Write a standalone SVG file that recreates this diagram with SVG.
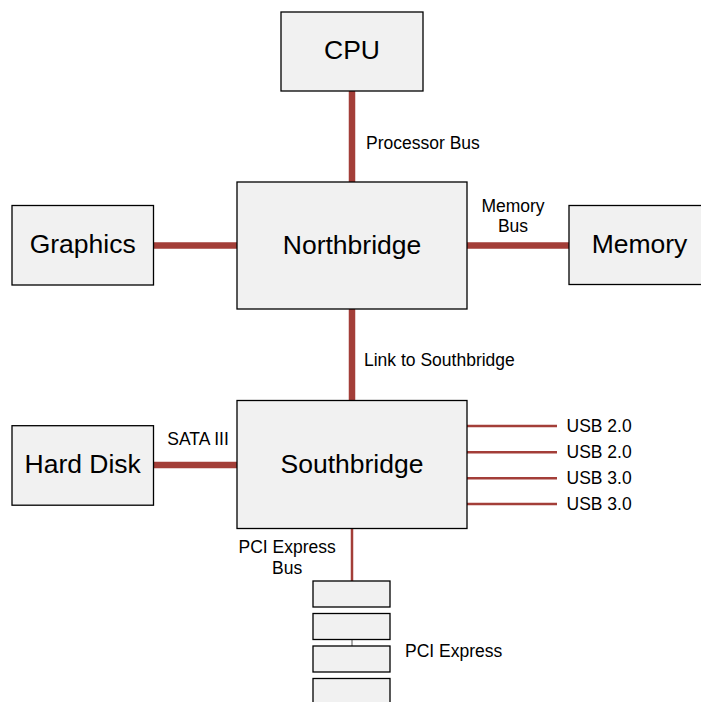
<svg xmlns="http://www.w3.org/2000/svg" width="701" height="702" viewBox="0 0 701 702">
<style>
.box{fill:#f1f1f1;stroke:#000;stroke-width:1.3}
.big{font-family:"Liberation Sans",Arial,sans-serif;font-size:26.5px;fill:#000}
.sm{font-family:"Liberation Sans",Arial,sans-serif;font-size:17.5px;fill:#000}
.bus{stroke:#a33e38;stroke-width:6.5;stroke-linecap:round;fill:none}
.thin{stroke:#a33e38;stroke-width:2.5;fill:none}
</style>
<rect width="701" height="702" fill="#fff"/>
<g id="connectors">
<line class="bus" x1="352" y1="92" x2="352" y2="182"/>
<line class="bus" x1="154" y1="245.5" x2="237" y2="245.5"/>
<line class="bus" x1="467" y1="245.5" x2="570" y2="245.5"/>
<line class="bus" x1="352" y1="310" x2="352" y2="400"/>
<line class="bus" x1="154" y1="465" x2="237" y2="465"/>
<line class="thin" x1="467" y1="426" x2="557" y2="426"/>
<line class="thin" x1="467" y1="452.3" x2="557" y2="452.3"/>
<line class="thin" x1="467" y1="478.3" x2="557" y2="478.3"/>
<line class="thin" x1="467" y1="504" x2="557" y2="504"/>
<line class="thin" x1="352" y1="529" x2="352" y2="581"/>
<line x1="352" y1="639" x2="352" y2="646" stroke="#555" stroke-width="1"/>
</g>
<g id="cpu"><rect class="box" x="281" y="12" width="142" height="79"/><text class="big" x="352" y="58.5" text-anchor="middle">CPU</text></g>
<g id="northbridge"><rect class="box" x="237" y="182" width="230" height="127"/><text class="big" x="352" y="253.5" text-anchor="middle">Northbridge</text></g>
<g id="graphics"><rect class="box" x="12" y="205.5" width="141.5" height="79.5"/><text class="big" x="82.7" y="253" text-anchor="middle">Graphics</text></g>
<g id="memory"><rect class="box" x="569" y="205.5" width="141.5" height="79"/><text class="big" x="639.5" y="253" text-anchor="middle">Memory</text></g>
<g id="southbridge"><rect class="box" x="237" y="400.5" width="230" height="128"/><text class="big" x="352" y="473.3" text-anchor="middle">Southbridge</text></g>
<g id="harddisk"><rect class="box" x="12" y="425.7" width="141.5" height="79.5"/><text class="big" x="82.7" y="472.8" text-anchor="middle">Hard Disk</text></g>
<g id="pci-slots">
<rect class="box" x="313" y="581" width="77" height="26"/>
<rect class="box" x="313" y="613.5" width="77" height="26"/>
<rect class="box" x="313" y="646" width="77" height="26"/>
<rect class="box" x="313" y="678.5" width="77" height="26"/>
</g>
<g id="labels">
<text class="sm" x="366" y="149">Processor Bus</text>
<text class="sm" x="513" y="212.3" text-anchor="middle">Memory</text>
<text class="sm" x="513" y="232.3" text-anchor="middle">Bus</text>
<text class="sm" x="364" y="366">Link to Southbridge</text>
<text class="sm" x="198" y="445" text-anchor="middle">SATA III</text>
<text class="sm" x="566.5" y="432">USB 2.0</text>
<text class="sm" x="566.5" y="458.3">USB 2.0</text>
<text class="sm" x="566.5" y="484.3">USB 3.0</text>
<text class="sm" x="566.5" y="510">USB 3.0</text>
<text class="sm" x="287.2" y="553.3" text-anchor="middle">PCI Express</text>
<text class="sm" x="287.2" y="574" text-anchor="middle">Bus</text>
<text class="sm" x="405" y="656.7">PCI Express</text>
</g>
</svg>
